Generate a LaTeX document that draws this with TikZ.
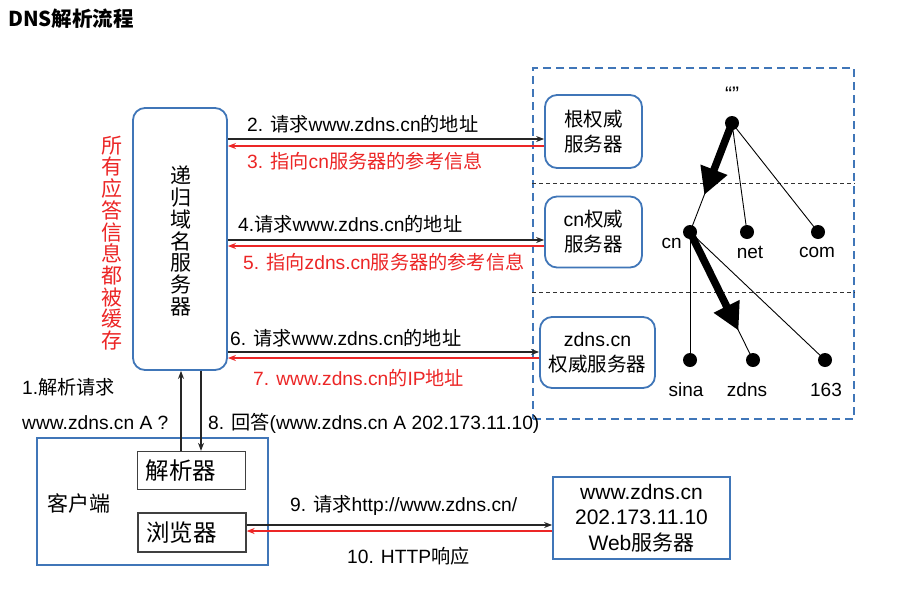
\documentclass[tikz,border=0pt]{standalone}
\usepackage{fontspec}
\setmainfont{Liberation Sans}
\newfontfamily\zhfont{Noto Sans CJK SC}
\newcommand\zh[1]{{\zhfont #1}}
\usetikzlibrary{arrows.meta,calc}
\definecolor{boxblue}{RGB}{64,118,184}
\definecolor{myred}{RGB}{236,38,38}
\begin{document}
\begin{tikzpicture}[x=1pt,y=-1pt,
  lbl/.style={inner sep=0pt, anchor=west, font=\fontsize{19.2}{23}\selectfont},
  rbox/.style={draw=boxblue, line width=1.8pt, rounded corners=12pt, align=center, inner sep=0pt, font=\fontsize{19.5}{25}\selectfont},
  sbox/.style={draw=boxblue, line width=1.8pt, inner sep=0pt},
  gbox/.style={draw=black!75, line width=1.3pt, inner xsep=8pt, inner ysep=0pt, text width=92pt, align=left, font=\zhfont\fontsize{23.5}{26}\selectfont},
  dot/.style={circle, fill=black, minimum size=14pt, inner sep=0pt},
  tlbl/.style={inner sep=0pt, font=\fontsize{19}{22}\selectfont},
  conn/.style={line width=1.1pt, draw=black!85, -{Stealth[length=8pt,width=6pt]}},
  conr/.style={line width=1.1pt, draw=myred, -{Stealth[length=8pt,width=6pt]}},
  vtext/.style={inner sep=0pt, align=center, font=\zhfont\fontsize{21}{21.7}\selectfont},
  bigarrow/.style={line width=7.5pt, -{Triangle[length=27pt,width=27pt]}},
  treeline/.style={line width=0.9pt},
  sep/.style={black!80, line width=0.9pt, dash pattern=on 4pt off 3pt}
]
\useasboundingbox (0,0) rectangle (902,592);
\fill[white] (0,0) rectangle (902,592);

% title
\node[inner sep=0pt, anchor=west, font=\zhfont\bfseries\fontsize{20.5}{24}\selectfont] (title) at (8,19) {DNS解析流程};

% recursive server
\node[rbox, minimum width=94pt, minimum height=262pt] (rec) at (180,239) {};
\node[vtext] (rectext) at (181,241) {递\\归\\域\\名\\服\\务\\器};
\node[vtext, text=myred] (cache) at (112,243) {所\\有\\应\\答\\信\\息\\都\\被\\缓\\存};

% authoritative zone
\node[draw=boxblue, line width=1.6pt, dash pattern=on 8pt off 5pt, minimum width=321pt, minimum height=351pt, inner sep=0pt] (zone) at (693.5,243.5) {};
\draw[sep] (zone.west |- 0,183) -- (zone.east |- 0,183);
\draw[sep] (zone.west |- 0,292) -- (zone.east |- 0,292);

\node[rbox, minimum width=97pt, minimum height=73pt] (root) at (593.5,131.5) {\zh{根权威}\\\zh{服务器}};
\node[rbox, minimum width=97pt, minimum height=71pt] (cnsrv) at (593.5,232) {cn\zh{权威}\\\zh{服务器}};
\node[rbox, minimum width=115pt, minimum height=71pt] (zsrv) at (597.5,352.5) {zdns.cn\\\zh{权威服务器}};

% query arrows
\draw[conn] (rec.east |- 0,139) -- (root.west |- 0,139);
\draw[conr] (root.west |- 0,146) -- (rec.east |- 0,146);
\draw[conn] (rec.east |- 0,240) -- (cnsrv.west |- 0,240);
\draw[conr] (cnsrv.west |- 0,246) -- (rec.east |- 0,246);
\draw[conn] (rec.east |- 0,352) -- (zsrv.west |- 0,352);
\draw[conr] (zsrv.west |- 0,358) -- (rec.east |- 0,358);

\node[lbl] (l2) at (247,124) {2. \zh{请求}www.zdns.cn\zh{的地址}};
\node[lbl, text=myred] (l3) at (247,161) {3. \zh{指向}cn\zh{服务器的参考信息}};
\node[lbl] (l4) at (238,224) {4.\zh{请求}www.zdns.cn\zh{的地址}};
\node[lbl, text=myred] (l5) at (243,262) {5. \zh{指向}zdns.cn\zh{服务器的参考信息}};
\node[lbl] (l6) at (230,338) {6. \zh{请求}www.zdns.cn\zh{的地址}};
\node[lbl, text=myred] (l7) at (253,378) {7. www.zdns.cn\zh{的}IP\zh{地址}};
\node[lbl] (l1) at (22,387) {1.\zh{解析请求}};
\node[lbl] (l1b) at (22,423) {www.zdns.cn A ?};
\node[lbl] (l8) at (208,423) {8. \zh{回答}(www.zdns.cn A 202.173.11.10)};

% client
\node[sbox, minimum width=231pt, minimum height=127pt] (client) at (152.5,501.5) {};
\node[inner sep=0pt, anchor=west, font=\zhfont\fontsize{21}{24}\selectfont] (clientlbl) at (47,503) {客户端};
\node[gbox, minimum height=38pt] (resolver) at (191.5,470.5) {解析器};
\node[gbox, minimum height=39pt] (browser) at (192,532.5) {浏览器};

\draw[conn] (resolver.north -| 181,0) -- (rec.south -| 181,0);
\draw[conn] (rec.south -| 201,0) -- (resolver.north -| 201,0);

% web server
\node[sbox, minimum width=177pt, minimum height=82pt, align=center, font=\fontsize{21}{25.5}\selectfont] (web) at (641.5,518) {www.zdns.cn\\202.173.11.10\\Web\zh{服务器}};
\draw[conn] (browser.east |- 0,525) -- (web.west |- 0,525);
\draw[conr] (web.west |- 0,531) -- (browser.east |- 0,531);
\node[lbl] (l9) at (290,505) {9. \zh{请求}http://www.zdns.cn/};
\node[lbl] (l10) at (347,556) {10. HTTP\zh{响应}};

% domain tree
\coordinate (ptr) at (732,123);
\coordinate (pcn) at (690,232);
\coordinate (pzdns) at (753,360);
\draw[treeline] (ptr) -- (pcn);
\draw[treeline] (ptr) -- (747,232);
\draw[treeline] (ptr) -- (818,232);
\draw[treeline] (pcn) -- (690,360);
\draw[treeline] (pcn) -- (pzdns);
\draw[treeline] (pcn) -- (825,360);
\draw[bigarrow] (ptr) -- ($(ptr)!0.66!(pcn)$);
\draw[bigarrow] (pcn) -- ($(pcn)!0.77!(pzdns)$);
\node[dot] (tr) at (ptr) {};
\node[dot] (tcn) at (pcn) {};
\node[dot] (tnet) at (747,232) {};
\node[dot] (tcom) at (818,232) {};
\node[dot] (tsina) at (690,360) {};
\node[dot] (tzdns) at (pzdns) {};
\node[dot] (t163) at (825,360) {};
\node[tlbl, font=\fontsize{21}{22}\selectfont] (lq) at (732,94) {“”};
\node[tlbl, anchor=east] (lcn) at (682,243) {cn};
\node[tlbl] (lnet) at (750,252) {net};
\node[tlbl] (lcom) at (817,252) {com};
\node[tlbl] (lsina) at (686,390) {sina};
\node[tlbl] (lzdns) at (747,390) {zdns};
\node[tlbl] (l163) at (826,390) {163};
\end{tikzpicture}
\end{document}
